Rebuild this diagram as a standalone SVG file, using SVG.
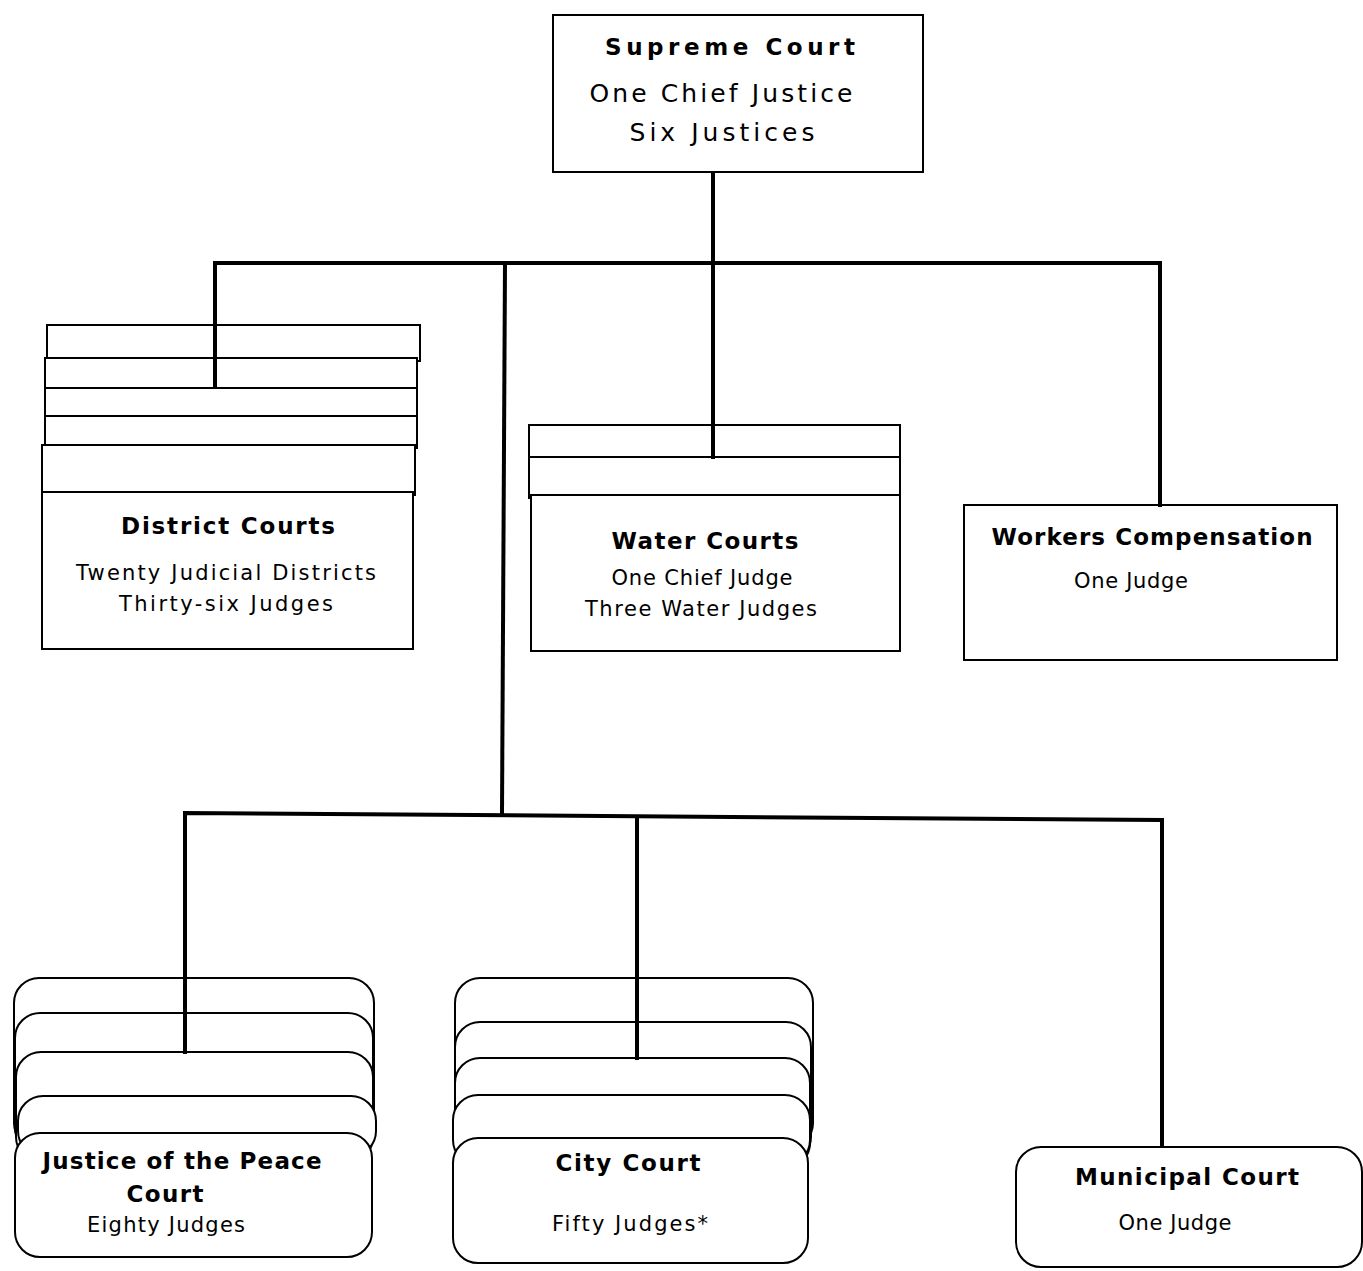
<svg xmlns="http://www.w3.org/2000/svg" width="1363" height="1271" viewBox="0 0 1363 1271">
<style>
.bx{fill:#fff;stroke:#000;stroke-width:2}
.cn{stroke:#000;stroke-width:4;fill:none;stroke-linecap:square}
text{font-family:"DejaVu Sans","Liberation Sans",sans-serif;fill:#000;text-anchor:middle}
.t{font-size:23px;font-weight:bold}
.s{font-size:21px}
.u{font-size:25px}
</style>
<rect width="1363" height="1271" fill="#fff"/>
<g id="supreme">
<rect class="bx" x="553" y="15" width="370" height="157"/>
<text class="t" x="730" y="55" textLength="250" lengthAdjust="spacing">Supreme Court</text>
<text class="u" x="721" y="102" textLength="263" lengthAdjust="spacing">One Chief Justice</text>
<text class="u" x="722" y="141" textLength="185" lengthAdjust="spacing">Six Justices</text>
</g>
<g id="district">
<rect class="bx" x="47" y="325" width="373" height="36"/>
<rect class="bx" x="45" y="358" width="372" height="33"/>
<rect class="bx" x="45" y="388" width="372" height="31"/>
<rect class="bx" x="45" y="416" width="372" height="32"/>
<rect class="bx" x="42" y="445" width="373" height="50"/>
<rect class="bx" x="42" y="492" width="371" height="157"/>
<text class="t" x="228" y="534" textLength="214" lengthAdjust="spacing">District Courts</text>
<text class="s" x="226" y="580" textLength="300" lengthAdjust="spacing">Twenty Judicial Districts</text>
<text class="s" x="226" y="611" textLength="214" lengthAdjust="spacing">Thirty-six Judges</text>
</g>
<g id="water">
<rect class="bx" x="529" y="425" width="371" height="35"/>
<rect class="bx" x="529" y="457" width="371" height="41"/>
<rect class="bx" x="531" y="495" width="369" height="156"/>
<text class="t" x="705" y="549" textLength="187" lengthAdjust="spacing">Water Courts</text>
<text class="s" x="702" y="585" textLength="181" lengthAdjust="spacing">One Chief Judge</text>
<text class="s" x="701" y="616" textLength="232" lengthAdjust="spacing">Three Water Judges</text>
</g>
<g id="workers">
<rect class="bx" x="964" y="505" width="373" height="155"/>
<text class="t" x="1152" y="545" textLength="321" lengthAdjust="spacing">Workers Compensation</text>
<text class="s" x="1131" y="588" textLength="114" lengthAdjust="spacing">One Judge</text>
</g>
<g id="justice-peace">
<rect class="bx" x="14" y="978" width="360" height="170" rx="25"/>
<rect class="bx" x="15" y="1013" width="358" height="140" rx="25"/>
<rect class="bx" x="16" y="1052" width="357" height="110" rx="25"/>
<rect class="bx" x="18" y="1096" width="358" height="60" rx="25"/>
<rect class="bx" x="15" y="1133" width="357" height="124" rx="25"/>
<text class="t" x="182" y="1169" textLength="279" lengthAdjust="spacing">Justice of the Peace</text>
<text class="t" x="165" y="1202" textLength="77" lengthAdjust="spacing">Court</text>
<text class="s" x="166" y="1232" textLength="158" lengthAdjust="spacing">Eighty Judges</text>
</g>
<g id="city">
<rect class="bx" x="455" y="978" width="358" height="170" rx="25"/>
<rect class="bx" x="455" y="1022" width="356" height="140" rx="25"/>
<rect class="bx" x="455" y="1058" width="355" height="110" rx="25"/>
<rect class="bx" x="453" y="1095" width="357" height="70" rx="25"/>
<rect class="bx" x="453" y="1138" width="355" height="125" rx="25"/>
<text class="t" x="628" y="1171" textLength="145" lengthAdjust="spacing">City Court</text>
<text class="s" x="630" y="1231" textLength="156" lengthAdjust="spacing">Fifty Judges*</text>
</g>
<g id="municipal">
<rect class="bx" x="1016" y="1147" width="346" height="120" rx="25"/>
<text class="t" x="1187" y="1185" textLength="224" lengthAdjust="spacing">Municipal Court</text>
<text class="s" x="1175" y="1230" textLength="113" lengthAdjust="spacing">One Judge</text>
</g>
<g id="connectors">
<path class="cn" d="M713 173V263"/>
<path class="cn" d="M215 387V263H1160V505"/>
<path class="cn" d="M713 263V457"/>
<path class="cn" d="M505 263L502 813"/>
<path class="cn" d="M185 1052V813L1162 820V1146"/>
<path class="cn" d="M637 817V1058"/>
</g>
</svg>
